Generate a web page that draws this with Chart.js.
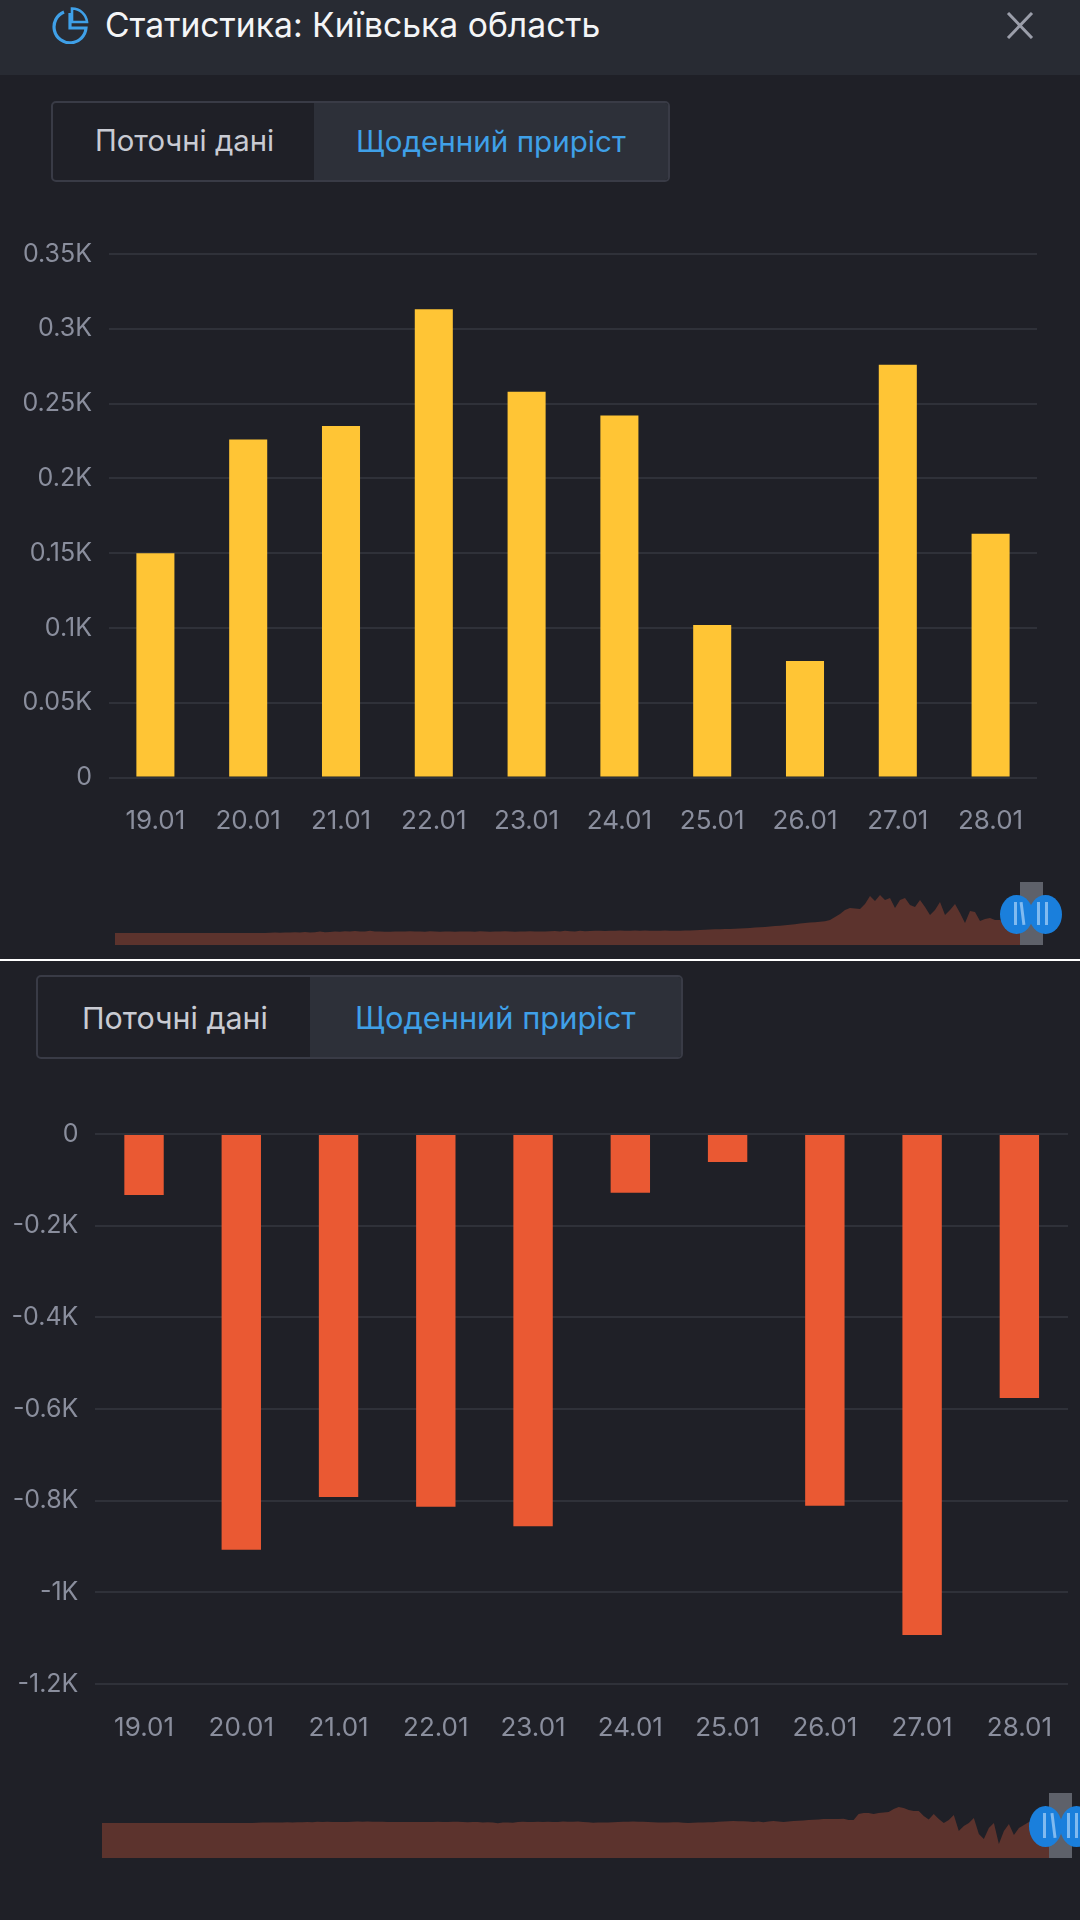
<!DOCTYPE html>
<html lang="uk">
<head>
<meta charset="utf-8">
<title>Статистика: Київська область</title>
<script src="https://cdn.jsdelivr.net/npm/chart.js@4"></script>
<style>
  html,body{margin:0;padding:0;background:#1f2027;}
  body{position:relative;width:1080px;height:1920px;overflow:hidden;font-family:Inter,sans-serif;}
  .abs{position:absolute;}
  canvas{position:absolute;display:block;}
  .header{left:0;top:0;width:1080px;height:75px;background:#282b33;}
  .title{left:105px;top:5px;font-size:33.7px;line-height:40px;color:#f4f5f7;white-space:nowrap;}
  .sep{left:0;top:959px;width:1080px;height:2px;background:#fff;}
  .tabs{box-sizing:border-box;border:2px solid #393b46;border-radius:5px;overflow:hidden;background:#1f2027;}
  .tab2{position:absolute;top:0;bottom:0;right:0;background:#2d3039;}
  .lbl{position:absolute;white-space:nowrap;}
  .handleRect{background:rgba(170,175,185,.46);}
  .knob{background:#1a7fdc;border-radius:50%;}
  .grip{background:#80baf0;width:3px;}
  .slant{transform:rotate(-7deg);}
</style>
</head>
<body>
<div class="abs header"></div>
<svg class="abs" style="left:50px;top:6px" width="40" height="38" viewBox="0 0 40 38" fill="none" stroke="#3fa0e8" stroke-width="3.2">
  <path d="M14 6 A16 16 0 1 0 36 22 L20 22 L20 7"/>
  <path d="M22 2.5 L22 16 L37 16 A15 15 0 0 0 22 2.5 Z" stroke-width="2.6"/>
</svg>
<div class="abs title">Статистика: Київська область</div>
<svg class="abs" style="left:1006px;top:12px" width="28" height="27" viewBox="0 0 28 27" stroke="#9b9eaa" stroke-width="3" fill="none">
  <path d="M2 1 L26 26 M26 1 L2 26"/>
</svg>

<div class="abs tabs" style="left:51px;top:101px;width:619px;height:81px">
  <div class="tab2" style="left:261px"></div>
  <div class="lbl" style="left:42px;top:20px;font-size:29.3px;line-height:36px;color:#c9cbd3">Поточні дані</div>
  <div class="lbl" style="left:303px;top:20px;font-size:29.6px;line-height:36px;color:#3fa0e8">Щоденний приріст</div>
</div>

<canvas id="topBars" width="1080" height="628" style="left:0;top:222px"></canvas>
<canvas id="topOverview" width="905" height="70" style="left:115px;top:875px"></canvas>
<div class="abs handleRect" style="left:1020px;top:882px;width:23px;height:63px"></div>
<div class="abs knob" style="left:1000px;top:895px;width:33px;height:39px"></div>
<div class="abs knob" style="left:1029px;top:895px;width:33px;height:39px"></div>
<div class="abs grip" style="left:1014px;top:902px;height:23px"></div>
<div class="abs grip slant" style="left:1021px;top:902px;height:23px"></div>
<div class="abs grip" style="left:1037px;top:902px;height:23px"></div>
<div class="abs grip" style="left:1045px;top:902px;height:23px"></div>

<div class="abs sep"></div>

<div class="abs tabs" style="left:36px;top:975px;width:647px;height:84px">
  <div class="tab2" style="left:272px"></div>
  <div class="lbl" style="left:44px;top:23px;font-size:30.4px;line-height:36px;color:#c9cbd3">Поточні дані</div>
  <div class="lbl" style="left:317px;top:23px;font-size:30.8px;line-height:36px;color:#3fa0e8">Щоденний приріст</div>
</div>

<canvas id="bottomBars" width="1080" height="648" style="left:0;top:1102px"></canvas>
<canvas id="bottomOverview" width="947" height="70" style="left:102px;top:1788px"></canvas>
<div class="abs handleRect" style="left:1049px;top:1793px;width:23px;height:65px"></div>
<div class="abs knob" style="left:1029px;top:1806px;width:33px;height:41px"></div>
<div class="abs knob" style="left:1060px;top:1806px;width:33px;height:41px"></div>
<div class="abs grip" style="left:1043px;top:1813px;height:25px"></div>
<div class="abs grip slant" style="left:1052px;top:1813px;height:25px"></div>
<div class="abs grip" style="left:1067px;top:1813px;height:25px"></div>
<div class="abs grip" style="left:1075px;top:1813px;height:25px"></div>

<script>
const categories = ['19.01','20.01','21.01','22.01','23.01','24.01','25.01','26.01','27.01','28.01'];
const topValues = [150,226,235,313,258,242,102,78,276,163];
const bottomValues = [-133,-907,-792,-813,-856,-128,-61,-811,-1093,-576];
const topOverviewValues = [
12,12,12,12,12,12,12,12,12,12,12,12,12,12,12,12,12,12,12,12,12,12,12,12,12,12,12,12,12,12,12,
12.3,12.4,12.3,12.6,12.4,12.7,12.5,13,12.6,12.8,13.4,12.8,13,13.6,13.2,13.8,13.4,14,13.6,13.4,14.2,13.6,13.4,13.2,13.2,13.4,13.6,13.4,13.8,
13.6,13.4,13.2,13.8,13.4,13.2,13.4,13.6,13.2,13.4,13.6,13.4,13.2,13.8,13.4,13.2,13.4,13.6,13.8,13.4,13.2,13.4,13.4,13.8,13.6,13.4,13.6,13.8,14,13.6,14.2,13.8,13.6,14.2,13.8,14,14.2,14.2,14,14.2,14.3,14.4,14.3,14.3,14.4,14.3,14.5,14.2,14.3,14.3,14.4,14.3,14.3,
14.3,14.4,14.5,14.7,14.9,15.2,15.5,15.7,15.8,16,16.1,16.3,16.5,16.7,17,17.4,17.8,18.1,18.5,19,19.3,19.8,20.2,20.8,21.5,22,22.4,22.8,23.2,23.8,25,28,31,35,37,36.5,36,41,49,44,50,45,47,37,45,47,40,38,45,38,30,35,43,30,35,41,32,22,34,33,24,26,27,25,25,22,19,15,12
];
const bottomOverviewValues = [
35,35,35,35,35,35,35,35,35,35,35,35,35,35,35,35,35,35,35,35,35,35,35,35,35,35,35,35,35,35,35,
35.3,35.5,35.4,35.5,35.6,35.5,35.8,35.6,35.7,35.8,36,35.8,36.3,36,36.2,36,36.1,35.9,36,36.2,36.4,36.2,36.4,36.3,36.2,36.2,36,36.1,36.1,36,35.9,36,36,36.1,35.9,36,36.2,36,36.1,36.3,36.2,36,35.8,36,35.9,35.6,35.7,35.4,34.8,35.6,35.4,35.2,36,36.2,36,36,36.3,36,36.2,36,36.1,36.4,36.2,36.3,36.4,36,35.8,35.2,35.4,35.6,35.5,35.8,36,36.2,36.3,36.4,36.3,36.2,36,35.7,35.6,35.5,35.6,35.7,
35.7,35.3,35,35.2,35.5,35.5,35.7,35.8,36.2,36.5,36.8,37,36.8,36.8,36.5,36,36.5,35.8,36.5,37,36.5,36,36.5,37,37.3,37.5,38,38.3,38.5,39,39,39,39,39.2,38,38,44,45,45,44,45,45.5,46,49,51,50,48,47,47,42,38.5,44,39,35,38,43,27,32,35,40,24,19,30,35,14,27,34,23,30,33,36,36,33,34,35
];

const gridColor = '#2f3139';
const tickColor = '#8a8e9d';
const yTickFont = {family:'Inter', size:25};
const xTickFont = {family:'Inter', size:26};

function kLabel(v){
  if (v === 0) return '0';
  return String(Math.round(v) / 1000) + 'K';
}

function barChart(id, values, color, barPct, yMin, yMax, step, left, right, top, xHeight, tickPad){
  return new Chart(document.getElementById(id), {
    type:'bar',
    data:{labels:categories, datasets:[{data:values, backgroundColor:color, barPercentage:barPct, categoryPercentage:1, borderWidth:0}]},
    options:{
      responsive:false, animation:false, devicePixelRatio:1,
      layout:{padding:{left:0,right:right,top:top,bottom:0}},
      plugins:{legend:{display:false},tooltip:{enabled:false}},
      scales:{
        x:{
          grid:{display:false}, border:{display:false},
          ticks:{color:tickColor,font:xTickFont,padding:tickPad,maxRotation:0,autoSkip:false},
          afterFit(s){s.height=xHeight;}
        },
        y:{
          min:yMin,max:yMax,
          grid:{color:gridColor,lineWidth:2,drawTicks:false},
          border:{display:false},
          ticks:{color:tickColor,font:yTickFont,stepSize:step,padding:17,callback:kLabel},
          afterFit(s){s.width=left;}
        }
      }
    }
  });
}

function overview(id, values){
  return new Chart(document.getElementById(id), {
    type:'line',
    data:{labels:values.map((_,i)=>i), datasets:[{data:values, borderWidth:0, pointRadius:0, fill:'origin', backgroundColor:'#5c332d', tension:0}]},
    options:{
      responsive:false, animation:false, devicePixelRatio:1,
      layout:{padding:0},
      plugins:{legend:{display:false},tooltip:{enabled:false}},
      scales:{
        x:{display:false,offset:false},
        y:{display:false,min:0,max:70}
      }
    }
  });
}

barChart('topBars', topValues, '#ffc535', 0.41, 0, 350, 50, 109, 43, 20.5, 72.4, 20);
barChart('bottomBars', bottomValues, '#ea5933', 0.405, -1200, 0, 200, 95.4, 12, 20.5, 66, 21);
overview('topOverview', topOverviewValues);
overview('bottomOverview', bottomOverviewValues);
</script>
</body>
</html>
